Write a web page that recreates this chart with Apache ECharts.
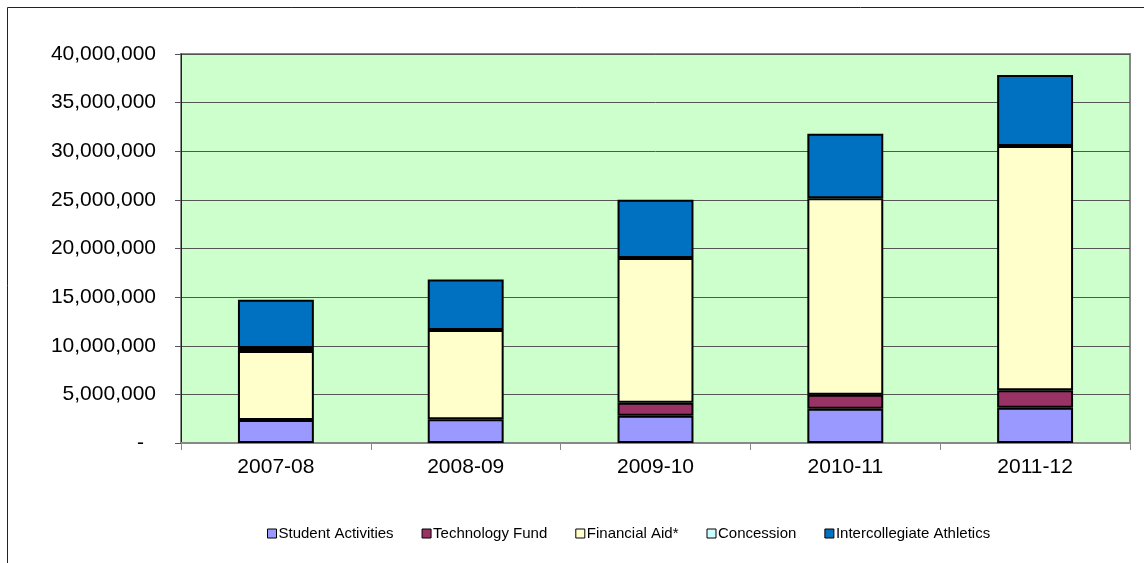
<!DOCTYPE html>
<html>
<head>
<meta charset="utf-8">
<script src="https://cdn.jsdelivr.net/npm/echarts@6/dist/echarts.min.js"></script>
<style>
html,body{margin:0;padding:0;background:#fff;}
#c{width:1144px;height:563px;}
</style>
</head>
<body>
<div id="c"></div>
<script>
var categories = ['2007-08', '2008-09', '2009-10', '2010-11', '2011-12'];
var studentActivities = [2370000, 2440000, 2810000, 3530000, 3630000];
var technologyFund = [0, 0, 1340000, 1440000, 1790000];
var financialAid = [7090000, 9180000, 14870000, 20190000, 25110000];
var concession = [310000, 0, 0, 0, 0];
var athletics = [4950000, 5180000, 6000000, 6650000, 7300000];
var yTicks = { min: 0, max: 40000000, interval: 5000000 };

var chart = echarts.init(document.getElementById('c'));
function bar(name, data, color) {
  return {
    name: name, type: 'bar', stack: 'total',
    data: data.map(function (v) { return v === 0 ? '-' : v; }),
    barWidth: '40%',
    itemStyle: { color: color, borderColor: '#000', borderWidth: 2 },
    emphasis: { disabled: true }
  };
}
var font = 'Liberation Sans, Arial, sans-serif';
chart.setOption({
  animation: false,
  graphic: [{
    type: 'rect', silent: true, z: -10,
    shape: { x: 7.5, y: 7.5, width: 1200, height: 600 },
    style: { fill: 'none', stroke: '#222', lineWidth: 1 }
  }],
  grid: {
    left: 181, right: 14, top: 54, bottom: 120,
    show: true, backgroundColor: '#CCFFCC', borderColor: '#888', borderWidth: 2
  },
  legend: {
    left: 262, top: 521, itemWidth: 9, itemHeight: 9, itemGap: 28,
    icon: 'rect',
    textStyle: { fontFamily: font, fontSize: 15, color: '#000', padding: [0, 0, 0, -3] },
    itemStyle: { borderColor: '#000', borderWidth: 1 },
    data: ['Student Activities', 'Technology Fund', 'Financial Aid*', 'Concession', 'Intercollegiate Athletics']
  },
  xAxis: {
    type: 'category', data: categories,
    axisLine: { lineStyle: { color: '#888', width: 2 } },
    axisTick: { show: true, length: 7, lineStyle: { color: '#888', width: 1 } },
    axisLabel: { fontFamily: font, fontSize: 21, color: '#000', margin: 14 }
  },
  yAxis: {
    type: 'value', min: yTicks.min, max: yTicks.max, interval: yTicks.interval,
    axisLine: { show: true, lineStyle: { color: '#222', width: 1 } },
    axisTick: { show: true, length: 6, lineStyle: { color: '#555' } },
    splitLine: { lineStyle: { color: '#555', width: 1 } },
    axisLabel: {
      fontFamily: font, fontSize: 21, color: '#000', margin: 25,
      formatter: function (v) {
        if (v === 0) return '{d|-}';
        return v.toString().replace(/\B(?=(\d{3})+(?!\d))/g, ',');
      },
      rich: { d: { fontFamily: font, fontSize: 21, color: '#000', padding: [0, 12, 0, 0] } }
    }
  },
  series: [
    bar('Student Activities', studentActivities, '#9999FF'),
    bar('Technology Fund', technologyFund, '#993366'),
    bar('Financial Aid*', financialAid, '#FFFFCC'),
    bar('Concession', concession, '#CCFFFF'),
    bar('Intercollegiate Athletics', athletics, '#0070C0')
  ]
});
</script>
</body>
</html>
